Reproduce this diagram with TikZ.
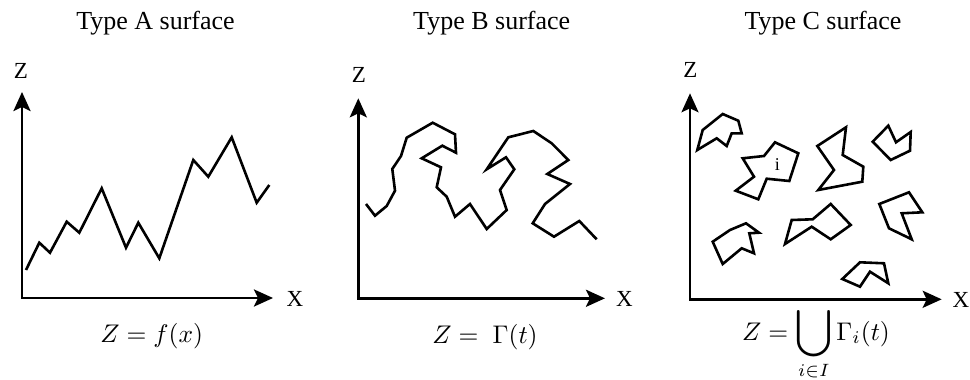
\documentclass[tikz,border=0pt]{standalone}
\usepackage{fontspec}
\setmainfont{Liberation Serif}
\usetikzlibrary{arrows.meta}
\tikzset{
  axis/.style={line width=2.8pt, {Stealth[length=19pt,width=17pt,inset=4pt]}-{Stealth[length=19pt,width=17pt,inset=4pt]}},
  curve/.style={line width=2.6pt, line join=miter},
  title/.style={anchor=base, inner sep=0pt, font=\fontsize{26}{30}\selectfont},
  axlabel/.style={inner sep=0pt, font=\fontsize{23}{27}\selectfont},
  eq/.style={anchor=base, inner sep=0pt},
  ilabel/.style={inner sep=0pt, font=\fontsize{18}{22}\selectfont}
}
\newcommand{\mybigcup}{\mathop{\vcenter{\hbox{\scalebox{1.3}{$\displaystyle\bigcup$}}}}\limits}
\begin{document}
\begin{tikzpicture}[x=1pt,y=-1pt]
\useasboundingbox (0,0) rectangle (970,380);

% ---------- Type A ----------
\node[title] (tA) at (155.5,29) {Type A surface};
\coordinate (Ao) at (22,298);
\coordinate (Az) at (22,92);
\coordinate (Ax) at (273,298);
\draw[axis] (Az) -- (Ao) -- (Ax);
\node[axlabel] (zA) at (20.8,70.5) {Z};
\node[axlabel] (xA) at (295,299) {X};
\draw[curve] (26,270) -- (39.3,242.7) -- (50,252.7) -- (66.7,221.7) -- (79.3,232.7)
  -- (101.7,188.3) -- (126,247.7) -- (138.3,222.7) -- (159.3,258.3) -- (193.3,160)
  -- (208.3,176.7) -- (231.7,137.3) -- (256.7,202.7) -- (269.3,185);
\node[eq] (eA) at (151.7,342) {\scalebox{2.55}{$Z = f(x)$}};

% ---------- Type B ----------
\node[title] (tB) at (491.7,29) {Type B surface};
\coordinate (Bo) at (358.3,298.3);
\coordinate (Bz) at (358.3,98.3);
\coordinate (Bx) at (605,298.3);
\draw[axis] (Bz) -- (Bo) -- (Bx);
\node[axlabel] (zB) at (359,75) {Z};
\node[axlabel] (xB) at (624.5,299) {X};
\draw[curve] (366,204) -- (375,215.7) -- (386.7,206) -- (395,190.7) -- (392.3,169)
  -- (401,156) -- (406.7,137.7) -- (432.7,122.7) -- (455,134.3) -- (456,152.7)
  -- (442.3,145.7) -- (421.7,158.3) -- (441,167.3) -- (436.7,187.3) -- (446.7,196.7)
  -- (455,216.7) -- (470,204) -- (486.7,229) -- (506.7,210) -- (500,190)
  -- (514.3,169.3) -- (506,157.3) -- (486.7,169.3) -- (508.3,137.3) -- (533.3,131)
  -- (551.7,143.3) -- (568.3,160) -- (547.3,174) -- (570,184) -- (545,204)
  -- (532.7,223.3) -- (554,236.7) -- (579.3,221) -- (596.7,239.3);
\node[eq] (eB) at (485,343) {\scalebox{2.55}{$Z = \;\Gamma(t)$}};

% ---------- Type C ----------
\node[title] (tC) at (823,29) {Type C surface};
\coordinate (Co) at (690,299.3);
\coordinate (Cz) at (690,93.3);
\coordinate (Cx) at (941.7,299.3);
\draw[axis] (Cz) -- (Co) -- (Cx);
\node[axlabel] (zC) at (690.5,70) {Z};
\node[axlabel] (xC) at (961,300) {X};
\draw[curve] (697.3,150) -- (702.7,130) -- (722.7,114) -- (738.3,120.7) -- (741.7,133.3)
  -- (731.7,133.3) -- (726.7,146) -- (716.7,138.3) -- cycle;
\draw[curve] (742.7,158.3) -- (764,156) -- (775,142.3) -- (798.3,153.3) -- (789.3,181)
  -- (766.7,178.7) -- (758.3,199.3) -- (735.7,190.7) -- (754,176.7) -- cycle;
\node[ilabel] (iC) at (777.3,165) {i};
\draw[curve] (817.3,146) -- (846,127.3) -- (842.7,155) -- (863.3,166.7) -- (862.3,181.7)
  -- (818.3,190) -- (834,170) -- cycle;
\draw[curve] (872.7,141.7) -- (888.3,125.7) -- (896,142.3) -- (910.7,132) -- (910,150.7)
  -- (890.7,160) -- cycle;
\draw[curve] (879.3,204) -- (909,192.3) -- (922.3,212.3) -- (901.7,213.3) -- (911.7,239.3)
  -- (889,228.3) -- cycle;
\draw[curve] (785,244) -- (791.7,220) -- (812.7,219.3) -- (830.7,204) -- (850.7,225)
  -- (830.7,239.3) -- (811.7,226.7) -- cycle;
\draw[curve] (712.7,241.7) -- (730,230) -- (746,223.3) -- (759,232.7) -- (749.3,233.3)
  -- (754,253.3) -- (741.7,248.3) -- (722.7,264) -- cycle;
\draw[curve] (842.3,279) -- (860,262.3) -- (884,263.3) -- (888.3,283.3) -- (870,271.7)
  -- (860,286.7) -- cycle;
\node[eq] (eC) at (816,340) {\scalebox{2.55}{$\displaystyle Z = \mybigcup_{\raisebox{0pt}[3pt][0pt]{$\scriptstyle i\in I$}}\Gamma_i(t)$}};
\end{tikzpicture}
\end{document}
